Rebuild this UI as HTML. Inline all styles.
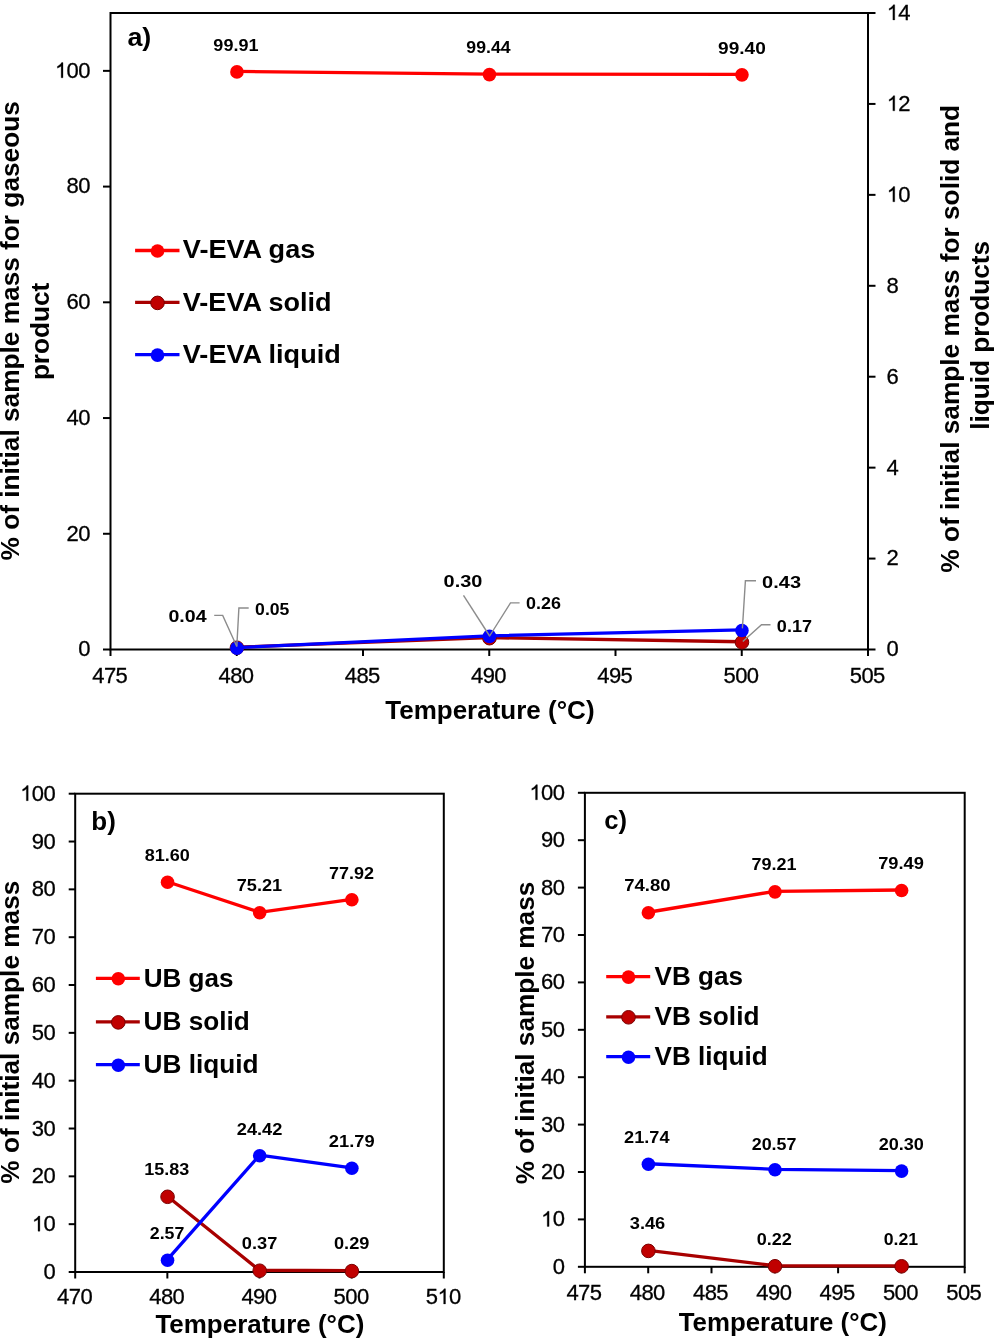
<!DOCTYPE html>
<html><head><meta charset="utf-8"><title>Chart</title>
<style>
html,body{margin:0;padding:0;background:#fff;}
body{width:994px;height:1343px;overflow:hidden;}
svg{display:block;filter:blur(0.45px);font-family:"Liberation Sans", sans-serif;}
text{fill:#000;}
.tk{stroke:#000;stroke-width:0.3px;}
.dl{stroke:none;}
.one{stroke:#000;stroke-width:29px;}
.h{fill:none;stroke:none;}
</style></head><body>
<svg width="994" height="1343" viewBox="0 0 994 1343">
<rect x="0" y="0" width="994" height="1343" fill="#fff"/>
<rect x="110.50" y="13.00" width="757.50" height="636.50" fill="none" stroke="#000" stroke-width="2.0"/>
<line x1="103.00" y1="649.50" x2="110.50" y2="649.50" stroke="#000" stroke-width="2.0"/>
<text class="tk" x="78.24" y="656.40" font-size="22.0">0</text>
<line x1="103.00" y1="533.77" x2="110.50" y2="533.77" stroke="#000" stroke-width="2.0"/>
<text class="tk" x="66.56 78.24" y="540.67" font-size="22.0">20</text>
<line x1="103.00" y1="418.05" x2="110.50" y2="418.05" stroke="#000" stroke-width="2.0"/>
<text class="tk" x="66.56 78.24" y="424.95" font-size="22.0">40</text>
<line x1="103.00" y1="302.32" x2="110.50" y2="302.32" stroke="#000" stroke-width="2.0"/>
<text class="tk" x="66.56 78.24" y="309.22" font-size="22.0">60</text>
<line x1="103.00" y1="186.59" x2="110.50" y2="186.59" stroke="#000" stroke-width="2.0"/>
<text class="tk" x="66.56 78.24" y="193.49" font-size="22.0">80</text>
<line x1="103.00" y1="70.86" x2="110.50" y2="70.86" stroke="#000" stroke-width="2.0"/>
<path class="one" transform="translate(55.12,77.76) scale(0.01033,-0.01033)" d="M763,0 L583,0 L583,1147 C540,1106 483,1064 413,1023 C343,982 280,951 223,931 L223,1105 C320,1151 405,1206 477,1272 C549,1338 600,1403 630,1466 L763,1466 Z"/>
<text class="tk" x="54.88 66.56 78.24" y="77.76" font-size="22.0"><tspan class="h">1</tspan>00</text>
<line x1="868.00" y1="649.50" x2="875.50" y2="649.50" stroke="#000" stroke-width="2.0"/>
<text class="tk" x="886.62" y="656.40" font-size="22.0">0</text>
<line x1="868.00" y1="558.57" x2="875.50" y2="558.57" stroke="#000" stroke-width="2.0"/>
<text class="tk" x="886.62" y="565.47" font-size="22.0">2</text>
<line x1="868.00" y1="467.64" x2="875.50" y2="467.64" stroke="#000" stroke-width="2.0"/>
<text class="tk" x="886.62" y="474.54" font-size="22.0">4</text>
<line x1="868.00" y1="376.71" x2="875.50" y2="376.71" stroke="#000" stroke-width="2.0"/>
<text class="tk" x="886.62" y="383.61" font-size="22.0">6</text>
<line x1="868.00" y1="285.79" x2="875.50" y2="285.79" stroke="#000" stroke-width="2.0"/>
<text class="tk" x="886.62" y="292.69" font-size="22.0">8</text>
<line x1="868.00" y1="194.86" x2="875.50" y2="194.86" stroke="#000" stroke-width="2.0"/>
<path class="one" transform="translate(886.86,201.76) scale(0.01033,-0.01033)" d="M763,0 L583,0 L583,1147 C540,1106 483,1064 413,1023 C343,982 280,951 223,931 L223,1105 C320,1151 405,1206 477,1272 C549,1338 600,1403 630,1466 L763,1466 Z"/>
<text class="tk" x="886.62 898.30" y="201.76" font-size="22.0"><tspan class="h">1</tspan>0</text>
<line x1="868.00" y1="103.93" x2="875.50" y2="103.93" stroke="#000" stroke-width="2.0"/>
<path class="one" transform="translate(886.86,110.83) scale(0.01033,-0.01033)" d="M763,0 L583,0 L583,1147 C540,1106 483,1064 413,1023 C343,982 280,951 223,931 L223,1105 C320,1151 405,1206 477,1272 C549,1338 600,1403 630,1466 L763,1466 Z"/>
<text class="tk" x="886.62 898.30" y="110.83" font-size="22.0"><tspan class="h">1</tspan>2</text>
<line x1="868.00" y1="13.00" x2="875.50" y2="13.00" stroke="#000" stroke-width="2.0"/>
<path class="one" transform="translate(886.86,19.90) scale(0.01033,-0.01033)" d="M763,0 L583,0 L583,1147 C540,1106 483,1064 413,1023 C343,982 280,951 223,931 L223,1105 C320,1151 405,1206 477,1272 C549,1338 600,1403 630,1466 L763,1466 Z"/>
<text class="tk" x="886.62 898.30" y="19.90" font-size="22.0"><tspan class="h">1</tspan>4</text>
<line x1="110.50" y1="649.50" x2="110.50" y2="656.00" stroke="#000" stroke-width="2.0"/>
<text class="tk" x="92.20 103.88 115.56" y="682.50" font-size="22.0">475</text>
<line x1="236.75" y1="649.50" x2="236.75" y2="656.00" stroke="#000" stroke-width="2.0"/>
<text class="tk" x="218.45 230.13 241.81" y="682.50" font-size="22.0">480</text>
<line x1="363.00" y1="649.50" x2="363.00" y2="656.00" stroke="#000" stroke-width="2.0"/>
<text class="tk" x="344.70 356.38 368.06" y="682.50" font-size="22.0">485</text>
<line x1="489.25" y1="649.50" x2="489.25" y2="656.00" stroke="#000" stroke-width="2.0"/>
<text class="tk" x="470.95 482.63 494.31" y="682.50" font-size="22.0">490</text>
<line x1="615.50" y1="649.50" x2="615.50" y2="656.00" stroke="#000" stroke-width="2.0"/>
<text class="tk" x="597.20 608.88 620.56" y="682.50" font-size="22.0">495</text>
<line x1="741.75" y1="649.50" x2="741.75" y2="656.00" stroke="#000" stroke-width="2.0"/>
<text class="tk" x="723.45 735.13 746.81" y="682.50" font-size="22.0">500</text>
<line x1="868.00" y1="649.50" x2="868.00" y2="656.00" stroke="#000" stroke-width="2.0"/>
<text class="tk" x="849.70 861.38 873.06" y="682.50" font-size="22.0">505</text>
<text x="127.41" y="45.70" font-size="26" font-weight="bold" textLength="23.93" lengthAdjust="spacingAndGlyphs">a)</text>
<text x="385.21" y="719.00" font-size="26" font-weight="bold" textLength="209.37" lengthAdjust="spacingAndGlyphs">Temperature (°C)</text>
<text transform="translate(19.30,0) rotate(-90)" x="-560.45" y="0" font-size="26" font-weight="bold" textLength="459.23" lengthAdjust="spacingAndGlyphs">% of initial sample mass for gaseous</text>
<text transform="translate(49.00,0) rotate(-90)" x="-380.12" y="0" font-size="26" font-weight="bold" textLength="97.24" lengthAdjust="spacingAndGlyphs">product</text>
<text transform="translate(959.30,0) rotate(-90)" x="-572.65" y="0" font-size="26" font-weight="bold" textLength="467.78" lengthAdjust="spacingAndGlyphs">% of initial sample mass for solid and</text>
<text transform="translate(988.80,0) rotate(-90)" x="-429.83" y="0" font-size="26" font-weight="bold" textLength="188.90" lengthAdjust="spacingAndGlyphs">liquid products</text>
<line x1="135.10" y1="250.50" x2="179.50" y2="250.50" stroke="#FF0000" stroke-width="3.3"/>
<circle cx="157.50" cy="251.00" r="6.8" fill="#FF0000"/>
<text x="182.82" y="258.00" font-size="26" font-weight="bold" textLength="132.45" lengthAdjust="spacingAndGlyphs">V-EVA gas</text>
<line x1="135.10" y1="302.40" x2="179.50" y2="302.40" stroke="#A80000" stroke-width="3.3"/>
<circle cx="157.50" cy="302.90" r="6.8" fill="#C00000" stroke="#7A0000" stroke-width="1"/>
<text x="182.82" y="310.70" font-size="26" font-weight="bold" textLength="148.71" lengthAdjust="spacingAndGlyphs">V-EVA solid</text>
<line x1="135.10" y1="354.60" x2="179.50" y2="354.60" stroke="#0000FF" stroke-width="3.3"/>
<circle cx="157.50" cy="355.10" r="6.8" fill="#0000FF"/>
<text x="182.82" y="363.30" font-size="26" font-weight="bold" textLength="157.91" lengthAdjust="spacingAndGlyphs">V-EVA liquid</text>
<polyline points="236.75,71.38 489.25,74.10 741.75,74.34" fill="none" stroke="#FF0000" stroke-width="3.3" stroke-linejoin="round"/>
<circle cx="236.95" cy="71.88" r="6.8" fill="#FF0000"/>
<circle cx="489.45" cy="74.60" r="6.8" fill="#FF0000"/>
<circle cx="741.95" cy="74.84" r="6.8" fill="#FF0000"/>
<polyline points="236.75,647.23 489.25,637.68 741.75,641.77" fill="none" stroke="#A80000" stroke-width="3.3" stroke-linejoin="round"/>
<circle cx="236.95" cy="647.73" r="6.8" fill="#C00000" stroke="#7A0000" stroke-width="1"/>
<circle cx="489.45" cy="638.18" r="6.8" fill="#C00000" stroke="#7A0000" stroke-width="1"/>
<circle cx="741.95" cy="642.27" r="6.8" fill="#C00000" stroke="#7A0000" stroke-width="1"/>
<polyline points="236.75,647.68 489.25,635.86 741.75,629.95" fill="none" stroke="#0000FF" stroke-width="3.3" stroke-linejoin="round"/>
<circle cx="236.95" cy="648.18" r="6.8" fill="#0000FF"/>
<circle cx="489.45" cy="636.36" r="6.8" fill="#0000FF"/>
<circle cx="741.95" cy="630.45" r="6.8" fill="#0000FF"/>
<polyline points="214.2,615.4 222.7,615.4 236.8,646.5" fill="none" stroke="#8C8C8C" stroke-width="1.4"/>
<polyline points="248.7,608.0 238.9,608.0 236.8,646.5" fill="none" stroke="#8C8C8C" stroke-width="1.4"/>
<polyline points="463.5,595.3 489.3,635.5" fill="none" stroke="#8C8C8C" stroke-width="1.4"/>
<polyline points="519.6,602.9 510.5,602.9 489.3,636.5" fill="none" stroke="#8C8C8C" stroke-width="1.4"/>
<polyline points="756.0,580.7 745.4,580.7 742.4,628.4" fill="none" stroke="#8C8C8C" stroke-width="1.4"/>
<polyline points="770.5,624.8 761.5,624.8 742.8,641.5" fill="none" stroke="#8C8C8C" stroke-width="1.4"/>
<text x="213.37" y="51.30" font-size="17.0" font-weight="bold" textLength="45.13" lengthAdjust="spacingAndGlyphs" class="dl">99.91</text>
<text x="466.39" y="53.10" font-size="17.0" font-weight="bold" textLength="44.21" lengthAdjust="spacingAndGlyphs" class="dl">99.44</text>
<text x="718.04" y="53.50" font-size="17.0" font-weight="bold" textLength="47.74" lengthAdjust="spacingAndGlyphs" class="dl">99.40</text>
<text x="168.42" y="622.40" font-size="17.0" font-weight="bold" textLength="38.18" lengthAdjust="spacingAndGlyphs" class="dl">0.04</text>
<text x="255.10" y="615.40" font-size="17.0" font-weight="bold" textLength="34.29" lengthAdjust="spacingAndGlyphs" class="dl">0.05</text>
<text x="443.61" y="587.20" font-size="17.0" font-weight="bold" textLength="38.81" lengthAdjust="spacingAndGlyphs" class="dl">0.30</text>
<text x="526.09" y="609.30" font-size="17.0" font-weight="bold" textLength="34.86" lengthAdjust="spacingAndGlyphs" class="dl">0.26</text>
<text x="762.11" y="588.20" font-size="17.0" font-weight="bold" textLength="38.91" lengthAdjust="spacingAndGlyphs" class="dl">0.43</text>
<text x="776.89" y="631.80" font-size="17.0" font-weight="bold" textLength="35.11" lengthAdjust="spacingAndGlyphs" class="dl">0.17</text>
<rect x="75.20" y="793.70" width="368.60" height="478.30" fill="none" stroke="#000" stroke-width="2.0"/>
<line x1="68.70" y1="1272.00" x2="75.20" y2="1272.00" stroke="#000" stroke-width="2.0"/>
<text class="tk" x="43.44" y="1279.00" font-size="22.0">0</text>
<line x1="68.70" y1="1224.17" x2="75.20" y2="1224.17" stroke="#000" stroke-width="2.0"/>
<path class="one" transform="translate(32.00,1231.17) scale(0.01033,-0.01033)" d="M763,0 L583,0 L583,1147 C540,1106 483,1064 413,1023 C343,982 280,951 223,931 L223,1105 C320,1151 405,1206 477,1272 C549,1338 600,1403 630,1466 L763,1466 Z"/>
<text class="tk" x="31.76 43.44" y="1231.17" font-size="22.0"><tspan class="h">1</tspan>0</text>
<line x1="68.70" y1="1176.34" x2="75.20" y2="1176.34" stroke="#000" stroke-width="2.0"/>
<text class="tk" x="31.76 43.44" y="1183.34" font-size="22.0">20</text>
<line x1="68.70" y1="1128.51" x2="75.20" y2="1128.51" stroke="#000" stroke-width="2.0"/>
<text class="tk" x="31.76 43.44" y="1135.51" font-size="22.0">30</text>
<line x1="68.70" y1="1080.68" x2="75.20" y2="1080.68" stroke="#000" stroke-width="2.0"/>
<text class="tk" x="31.76 43.44" y="1087.68" font-size="22.0">40</text>
<line x1="68.70" y1="1032.85" x2="75.20" y2="1032.85" stroke="#000" stroke-width="2.0"/>
<text class="tk" x="31.76 43.44" y="1039.85" font-size="22.0">50</text>
<line x1="68.70" y1="985.02" x2="75.20" y2="985.02" stroke="#000" stroke-width="2.0"/>
<text class="tk" x="31.76 43.44" y="992.02" font-size="22.0">60</text>
<line x1="68.70" y1="937.19" x2="75.20" y2="937.19" stroke="#000" stroke-width="2.0"/>
<text class="tk" x="31.76 43.44" y="944.19" font-size="22.0">70</text>
<line x1="68.70" y1="889.36" x2="75.20" y2="889.36" stroke="#000" stroke-width="2.0"/>
<text class="tk" x="31.76 43.44" y="896.36" font-size="22.0">80</text>
<line x1="68.70" y1="841.53" x2="75.20" y2="841.53" stroke="#000" stroke-width="2.0"/>
<text class="tk" x="31.76 43.44" y="848.53" font-size="22.0">90</text>
<line x1="68.70" y1="793.70" x2="75.20" y2="793.70" stroke="#000" stroke-width="2.0"/>
<path class="one" transform="translate(20.32,800.70) scale(0.01033,-0.01033)" d="M763,0 L583,0 L583,1147 C540,1106 483,1064 413,1023 C343,982 280,951 223,931 L223,1105 C320,1151 405,1206 477,1272 C549,1338 600,1403 630,1466 L763,1466 Z"/>
<text class="tk" x="20.08 31.76 43.44" y="800.70" font-size="22.0"><tspan class="h">1</tspan>00</text>
<line x1="75.20" y1="1272.00" x2="75.20" y2="1278.50" stroke="#000" stroke-width="2.0"/>
<text class="tk" x="57.10 68.78 80.46" y="1303.90" font-size="22.0">470</text>
<line x1="167.35" y1="1272.00" x2="167.35" y2="1278.50" stroke="#000" stroke-width="2.0"/>
<text class="tk" x="149.25 160.93 172.61" y="1303.90" font-size="22.0">480</text>
<line x1="259.50" y1="1272.00" x2="259.50" y2="1278.50" stroke="#000" stroke-width="2.0"/>
<text class="tk" x="241.40 253.08 264.76" y="1303.90" font-size="22.0">490</text>
<line x1="351.65" y1="1272.00" x2="351.65" y2="1278.50" stroke="#000" stroke-width="2.0"/>
<text class="tk" x="333.55 345.23 356.91" y="1303.90" font-size="22.0">500</text>
<line x1="443.80" y1="1272.00" x2="443.80" y2="1278.50" stroke="#000" stroke-width="2.0"/>
<path class="one" transform="translate(437.62,1303.90) scale(0.01033,-0.01033)" d="M763,0 L583,0 L583,1147 C540,1106 483,1064 413,1023 C343,982 280,951 223,931 L223,1105 C320,1151 405,1206 477,1272 C549,1338 600,1403 630,1466 L763,1466 Z"/>
<text class="tk" x="425.70 437.38 449.06" y="1303.90" font-size="22.0">5<tspan class="h">1</tspan>0</text>
<text x="91.29" y="829.70" font-size="26" font-weight="bold" textLength="24.50" lengthAdjust="spacingAndGlyphs">b)</text>
<text x="155.41" y="1333.30" font-size="26" font-weight="bold" textLength="208.97" lengthAdjust="spacingAndGlyphs">Temperature (°C)</text>
<text transform="translate(19.10,0) rotate(-90)" x="-1183.65" y="0" font-size="26" font-weight="bold" textLength="302.93" lengthAdjust="spacingAndGlyphs">% of initial sample mass</text>
<line x1="95.90" y1="978.30" x2="139.80" y2="978.30" stroke="#FF0000" stroke-width="3.3"/>
<circle cx="118.30" cy="978.80" r="6.8" fill="#FF0000"/>
<text x="143.63" y="986.90" font-size="26" font-weight="bold" textLength="89.84" lengthAdjust="spacingAndGlyphs">UB gas</text>
<line x1="95.90" y1="1021.90" x2="139.80" y2="1021.90" stroke="#A80000" stroke-width="3.3"/>
<circle cx="118.30" cy="1022.40" r="6.8" fill="#C00000" stroke="#7A0000" stroke-width="1"/>
<text x="143.63" y="1029.80" font-size="26" font-weight="bold" textLength="106.20" lengthAdjust="spacingAndGlyphs">UB solid</text>
<line x1="95.90" y1="1064.70" x2="139.80" y2="1064.70" stroke="#0000FF" stroke-width="3.3"/>
<circle cx="118.30" cy="1065.20" r="6.8" fill="#0000FF"/>
<text x="143.63" y="1072.80" font-size="26" font-weight="bold" textLength="115.00" lengthAdjust="spacingAndGlyphs">UB liquid</text>
<polyline points="167.35,881.71 259.50,912.27 351.65,899.31" fill="none" stroke="#FF0000" stroke-width="3.3" stroke-linejoin="round"/>
<circle cx="167.55" cy="882.21" r="6.8" fill="#FF0000"/>
<circle cx="259.70" cy="912.77" r="6.8" fill="#FF0000"/>
<circle cx="351.85" cy="899.81" r="6.8" fill="#FF0000"/>
<polyline points="167.35,1196.29 259.50,1270.23 351.65,1270.61" fill="none" stroke="#A80000" stroke-width="3.3" stroke-linejoin="round"/>
<circle cx="167.55" cy="1196.79" r="6.8" fill="#C00000" stroke="#7A0000" stroke-width="1"/>
<circle cx="259.70" cy="1270.73" r="6.8" fill="#C00000" stroke="#7A0000" stroke-width="1"/>
<circle cx="351.85" cy="1271.11" r="6.8" fill="#C00000" stroke="#7A0000" stroke-width="1"/>
<polyline points="167.35,1259.71 259.50,1155.20 351.65,1167.78" fill="none" stroke="#0000FF" stroke-width="3.3" stroke-linejoin="round"/>
<circle cx="167.55" cy="1260.21" r="6.8" fill="#0000FF"/>
<circle cx="259.70" cy="1155.70" r="6.8" fill="#0000FF"/>
<circle cx="351.85" cy="1168.28" r="6.8" fill="#0000FF"/>
<text x="144.73" y="860.50" font-size="17.0" font-weight="bold" textLength="45.11" lengthAdjust="spacingAndGlyphs" class="dl">81.60</text>
<text x="236.72" y="891.20" font-size="17.0" font-weight="bold" textLength="45.38" lengthAdjust="spacingAndGlyphs" class="dl">75.21</text>
<text x="329.03" y="878.70" font-size="17.0" font-weight="bold" textLength="45.10" lengthAdjust="spacingAndGlyphs" class="dl">77.92</text>
<text x="144.27" y="1175.00" font-size="17.0" font-weight="bold" textLength="44.98" lengthAdjust="spacingAndGlyphs" class="dl">15.83</text>
<text x="149.78" y="1239.00" font-size="17.0" font-weight="bold" textLength="34.60" lengthAdjust="spacingAndGlyphs" class="dl">2.57</text>
<text x="236.77" y="1134.80" font-size="17.0" font-weight="bold" textLength="45.56" lengthAdjust="spacingAndGlyphs" class="dl">24.42</text>
<text x="328.87" y="1147.40" font-size="17.0" font-weight="bold" textLength="45.81" lengthAdjust="spacingAndGlyphs" class="dl">21.79</text>
<text x="241.88" y="1249.40" font-size="17.0" font-weight="bold" textLength="35.52" lengthAdjust="spacingAndGlyphs" class="dl">0.37</text>
<text x="333.98" y="1249.40" font-size="17.0" font-weight="bold" textLength="35.39" lengthAdjust="spacingAndGlyphs" class="dl">0.29</text>
<rect x="584.90" y="792.80" width="379.80" height="474.00" fill="none" stroke="#000" stroke-width="2.0"/>
<line x1="577.90" y1="1266.80" x2="584.90" y2="1266.80" stroke="#000" stroke-width="2.0"/>
<text class="tk" x="552.64" y="1273.80" font-size="22.0">0</text>
<line x1="577.90" y1="1219.40" x2="584.90" y2="1219.40" stroke="#000" stroke-width="2.0"/>
<path class="one" transform="translate(541.20,1226.40) scale(0.01033,-0.01033)" d="M763,0 L583,0 L583,1147 C540,1106 483,1064 413,1023 C343,982 280,951 223,931 L223,1105 C320,1151 405,1206 477,1272 C549,1338 600,1403 630,1466 L763,1466 Z"/>
<text class="tk" x="540.96 552.64" y="1226.40" font-size="22.0"><tspan class="h">1</tspan>0</text>
<line x1="577.90" y1="1172.00" x2="584.90" y2="1172.00" stroke="#000" stroke-width="2.0"/>
<text class="tk" x="540.96 552.64" y="1179.00" font-size="22.0">20</text>
<line x1="577.90" y1="1124.60" x2="584.90" y2="1124.60" stroke="#000" stroke-width="2.0"/>
<text class="tk" x="540.96 552.64" y="1131.60" font-size="22.0">30</text>
<line x1="577.90" y1="1077.20" x2="584.90" y2="1077.20" stroke="#000" stroke-width="2.0"/>
<text class="tk" x="540.96 552.64" y="1084.20" font-size="22.0">40</text>
<line x1="577.90" y1="1029.80" x2="584.90" y2="1029.80" stroke="#000" stroke-width="2.0"/>
<text class="tk" x="540.96 552.64" y="1036.80" font-size="22.0">50</text>
<line x1="577.90" y1="982.40" x2="584.90" y2="982.40" stroke="#000" stroke-width="2.0"/>
<text class="tk" x="540.96 552.64" y="989.40" font-size="22.0">60</text>
<line x1="577.90" y1="935.00" x2="584.90" y2="935.00" stroke="#000" stroke-width="2.0"/>
<text class="tk" x="540.96 552.64" y="942.00" font-size="22.0">70</text>
<line x1="577.90" y1="887.60" x2="584.90" y2="887.60" stroke="#000" stroke-width="2.0"/>
<text class="tk" x="540.96 552.64" y="894.60" font-size="22.0">80</text>
<line x1="577.90" y1="840.20" x2="584.90" y2="840.20" stroke="#000" stroke-width="2.0"/>
<text class="tk" x="540.96 552.64" y="847.20" font-size="22.0">90</text>
<line x1="577.90" y1="792.80" x2="584.90" y2="792.80" stroke="#000" stroke-width="2.0"/>
<path class="one" transform="translate(529.52,799.80) scale(0.01033,-0.01033)" d="M763,0 L583,0 L583,1147 C540,1106 483,1064 413,1023 C343,982 280,951 223,931 L223,1105 C320,1151 405,1206 477,1272 C549,1338 600,1403 630,1466 L763,1466 Z"/>
<text class="tk" x="529.28 540.96 552.64" y="799.80" font-size="22.0"><tspan class="h">1</tspan>00</text>
<line x1="584.90" y1="1266.80" x2="584.90" y2="1273.30" stroke="#000" stroke-width="2.0"/>
<text class="tk" x="566.40 578.08 589.76" y="1300.00" font-size="22.0">475</text>
<line x1="648.20" y1="1266.80" x2="648.20" y2="1273.30" stroke="#000" stroke-width="2.0"/>
<text class="tk" x="629.70 641.38 653.06" y="1300.00" font-size="22.0">480</text>
<line x1="711.50" y1="1266.80" x2="711.50" y2="1273.30" stroke="#000" stroke-width="2.0"/>
<text class="tk" x="693.00 704.68 716.36" y="1300.00" font-size="22.0">485</text>
<line x1="774.80" y1="1266.80" x2="774.80" y2="1273.30" stroke="#000" stroke-width="2.0"/>
<text class="tk" x="756.30 767.98 779.66" y="1300.00" font-size="22.0">490</text>
<line x1="838.10" y1="1266.80" x2="838.10" y2="1273.30" stroke="#000" stroke-width="2.0"/>
<text class="tk" x="819.60 831.28 842.96" y="1300.00" font-size="22.0">495</text>
<line x1="901.40" y1="1266.80" x2="901.40" y2="1273.30" stroke="#000" stroke-width="2.0"/>
<text class="tk" x="882.90 894.58 906.26" y="1300.00" font-size="22.0">500</text>
<line x1="964.70" y1="1266.80" x2="964.70" y2="1273.30" stroke="#000" stroke-width="2.0"/>
<text class="tk" x="946.20 957.88 969.56" y="1300.00" font-size="22.0">505</text>
<text x="604.20" y="828.50" font-size="26" font-weight="bold" textLength="22.78" lengthAdjust="spacingAndGlyphs">c)</text>
<text x="678.71" y="1331.20" font-size="26" font-weight="bold" textLength="208.06" lengthAdjust="spacingAndGlyphs">Temperature (°C)</text>
<text transform="translate(534.40,0) rotate(-90)" x="-1184.35" y="0" font-size="26" font-weight="bold" textLength="302.63" lengthAdjust="spacingAndGlyphs">% of initial sample mass</text>
<line x1="606.20" y1="976.60" x2="650.20" y2="976.60" stroke="#FF0000" stroke-width="3.3"/>
<circle cx="628.50" cy="977.10" r="6.8" fill="#FF0000"/>
<text x="654.62" y="985.00" font-size="26" font-weight="bold" textLength="88.45" lengthAdjust="spacingAndGlyphs">VB gas</text>
<line x1="606.20" y1="1016.80" x2="650.20" y2="1016.80" stroke="#A80000" stroke-width="3.3"/>
<circle cx="628.50" cy="1017.30" r="6.8" fill="#C00000" stroke="#7A0000" stroke-width="1"/>
<text x="654.62" y="1024.60" font-size="26" font-weight="bold" textLength="104.81" lengthAdjust="spacingAndGlyphs">VB solid</text>
<line x1="606.20" y1="1056.70" x2="650.20" y2="1056.70" stroke="#0000FF" stroke-width="3.3"/>
<circle cx="628.50" cy="1057.20" r="6.8" fill="#0000FF"/>
<text x="654.62" y="1065.10" font-size="26" font-weight="bold" textLength="113.00" lengthAdjust="spacingAndGlyphs">VB liquid</text>
<polyline points="648.20,912.25 774.80,891.34 901.40,890.02" fill="none" stroke="#FF0000" stroke-width="3.3" stroke-linejoin="round"/>
<circle cx="648.40" cy="912.75" r="6.8" fill="#FF0000"/>
<circle cx="775.00" cy="891.84" r="6.8" fill="#FF0000"/>
<circle cx="901.60" cy="890.52" r="6.8" fill="#FF0000"/>
<polyline points="648.20,1250.40 774.80,1265.76 901.40,1265.80" fill="none" stroke="#A80000" stroke-width="3.3" stroke-linejoin="round"/>
<circle cx="648.40" cy="1250.90" r="6.8" fill="#C00000" stroke="#7A0000" stroke-width="1"/>
<circle cx="775.00" cy="1266.26" r="6.8" fill="#C00000" stroke="#7A0000" stroke-width="1"/>
<circle cx="901.60" cy="1266.30" r="6.8" fill="#C00000" stroke="#7A0000" stroke-width="1"/>
<polyline points="648.20,1163.75 774.80,1169.30 901.40,1170.58" fill="none" stroke="#0000FF" stroke-width="3.3" stroke-linejoin="round"/>
<circle cx="648.40" cy="1164.25" r="6.8" fill="#0000FF"/>
<circle cx="775.00" cy="1169.80" r="6.8" fill="#0000FF"/>
<circle cx="901.60" cy="1171.08" r="6.8" fill="#0000FF"/>
<text x="624.20" y="891.20" font-size="17.0" font-weight="bold" textLength="46.36" lengthAdjust="spacingAndGlyphs" class="dl">74.80</text>
<text x="751.53" y="870.10" font-size="17.0" font-weight="bold" textLength="45.08" lengthAdjust="spacingAndGlyphs" class="dl">79.21</text>
<text x="878.21" y="869.30" font-size="17.0" font-weight="bold" textLength="45.76" lengthAdjust="spacingAndGlyphs" class="dl">79.49</text>
<text x="624.07" y="1142.80" font-size="17.0" font-weight="bold" textLength="45.43" lengthAdjust="spacingAndGlyphs" class="dl">21.74</text>
<text x="751.68" y="1149.60" font-size="17.0" font-weight="bold" textLength="44.81" lengthAdjust="spacingAndGlyphs" class="dl">20.57</text>
<text x="878.67" y="1149.60" font-size="17.0" font-weight="bold" textLength="45.27" lengthAdjust="spacingAndGlyphs" class="dl">20.30</text>
<text x="629.78" y="1229.30" font-size="17.0" font-weight="bold" textLength="35.48" lengthAdjust="spacingAndGlyphs" class="dl">3.46</text>
<text x="756.69" y="1244.90" font-size="17.0" font-weight="bold" textLength="35.14" lengthAdjust="spacingAndGlyphs" class="dl">0.22</text>
<text x="883.70" y="1244.90" font-size="17.0" font-weight="bold" textLength="34.39" lengthAdjust="spacingAndGlyphs" class="dl">0.21</text>
</svg>
</body></html>
